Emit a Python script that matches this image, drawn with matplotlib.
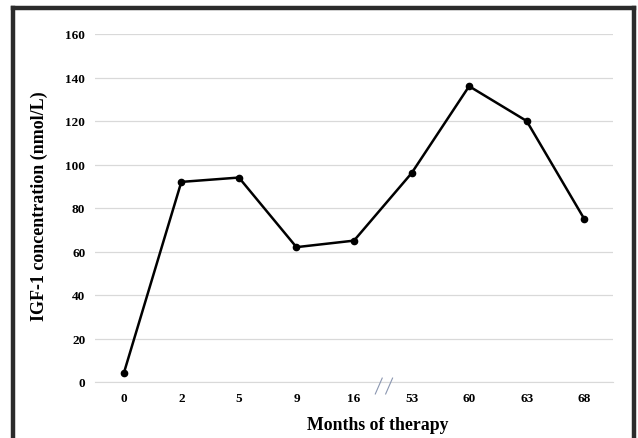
import matplotlib.pyplot as plt
from matplotlib.lines import Line2D

months = ['0', '2', '5', '9', '16', '53', '60', '63', '68']
igf1 = [4, 92, 94, 62, 65, 96, 136, 120, 75]

plt.rcParams['font.family'] = ['Liberation Serif', 'DejaVu Serif']
plt.rcParams['font.weight'] = 'bold'

W, H = 638, 439
fig = plt.figure(figsize=(W / 100, H / 100), dpi=100)
ax = fig.add_axes([95 / W, 1 - 383 / H, (613 - 95) / W, (383 - 35) / H])

x = list(range(len(months)))
ax.plot(x, igf1, color='black', lw=1.8, marker='o', ms=4.5, zorder=3)

ax.set_xlim(-0.5, len(months) - 0.5)
ax.set_ylim(0, 160)
ax.set_yticks(range(0, 161, 20))
ax.set_xticks(x)
ax.set_xticklabels(months)
ax.grid(axis='y', color='#d9d9d9', lw=0.9)
ax.set_axisbelow(True)
for s in ax.spines.values():
    s.set_visible(False)
ax.spines['bottom'].set_visible(True)
ax.spines['bottom'].set_color('#d9d9d9')
ax.tick_params(length=0, labelsize=9.5)
ax.tick_params(axis='x', pad=7.5)
ax.tick_params(axis='y', pad=7)

fig.text(39 / W, 1 - 206 / H, 'IGF-1 concentration (nmol/L)', fontsize=13,
         fontweight='bold', rotation=90, ha='center', va='center')
fig.text(378 / W, 1 - 426 / H, 'Months of therapy', fontsize=12.8, fontweight='bold',
         ha='center', va='center')

# axis break marks between 16 and 53
for x0 in (4.37, 4.55):
    ax.plot([x0, x0 + 0.12], [-5.5, 1.8], color='#8a96b0', lw=0.8,
            clip_on=False, zorder=4)

# dark frame around figure
fc = '#2b2b2b'
fig.add_artist(Line2D([13 / W, 13 / W], [0, 1 - 9 / H], color=fc, lw=3.2))
fig.add_artist(Line2D([13 / W, 634 / W], [1 - 9 / H, 1 - 9 / H], color=fc, lw=3.2))
fig.add_artist(Line2D([634 / W, 634 / W], [0, 1 - 9 / H], color=fc, lw=3.2))

fig.savefig('out.png', dpi=100)
